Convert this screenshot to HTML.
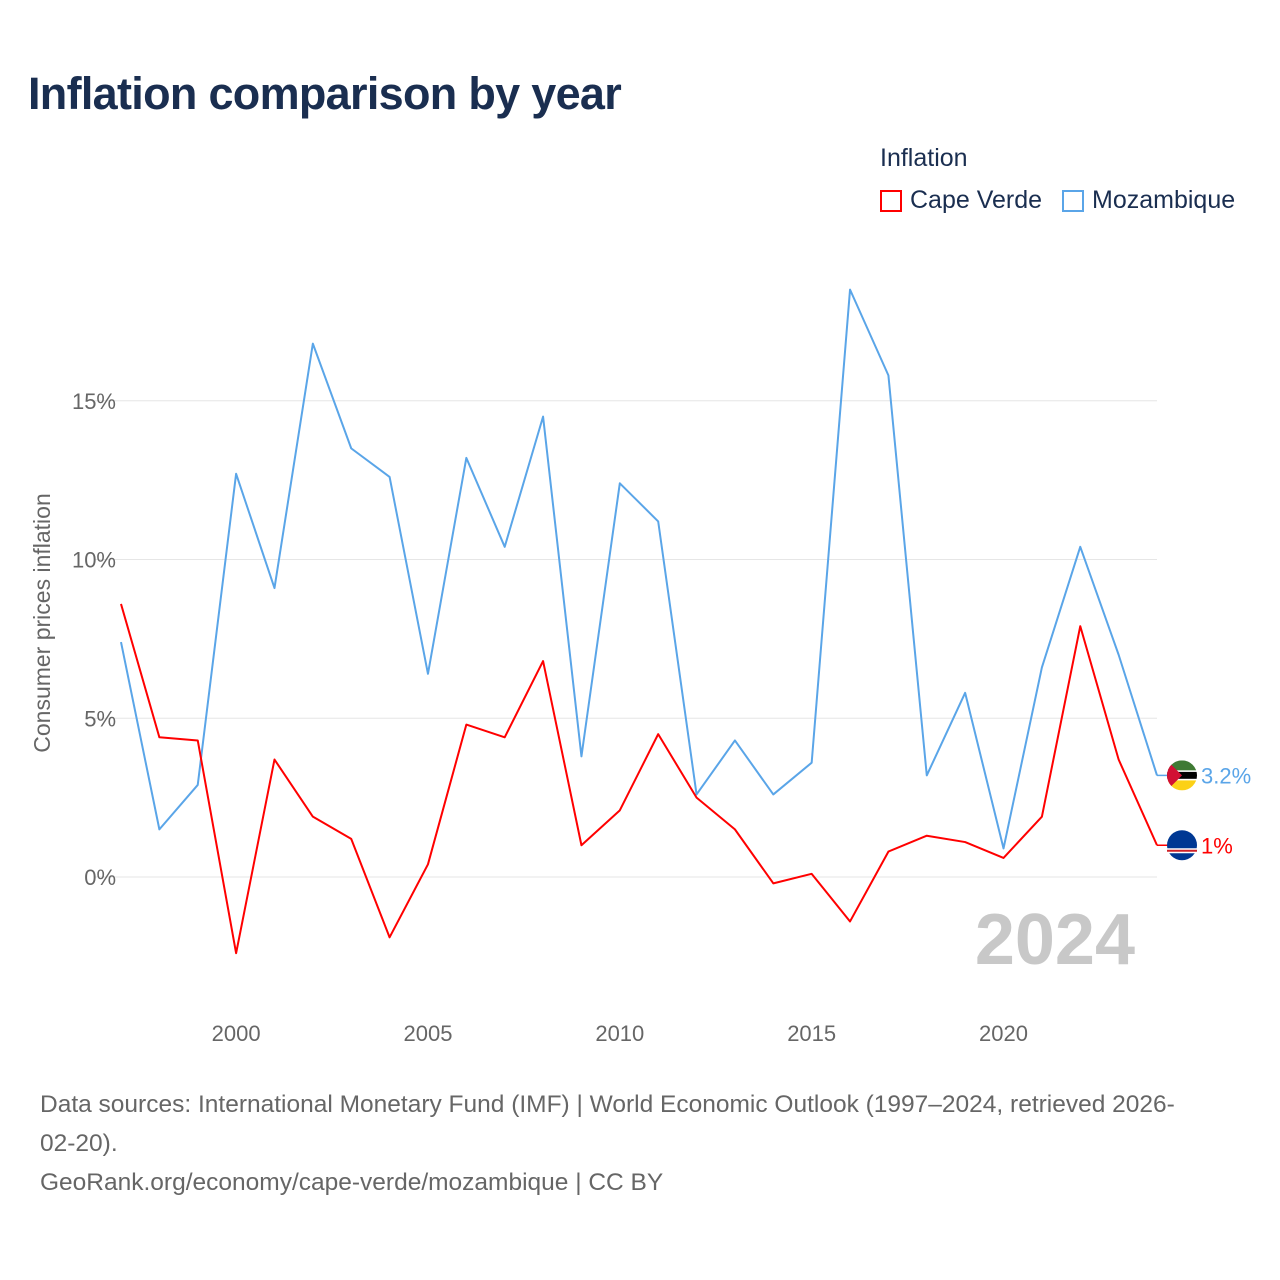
<!DOCTYPE html>
<html><head><meta charset="utf-8">
<style>
html,body{margin:0;padding:0;background:#fff;width:1280px;height:1280px;overflow:hidden}
body{font-family:"Liberation Sans",sans-serif;position:relative}
.title{position:absolute;left:28px;top:68px;font-size:45px;font-weight:bold;color:#1a2e50;letter-spacing:-0.7px}
.legend-title{position:absolute;left:880px;top:144px;font-size:25px;color:#1a2e50}
.leg{position:absolute;top:186px;font-size:25px;color:#1a2e50;display:flex;align-items:center}
.sw{width:22px;height:22px;border:2px solid;box-sizing:border-box;margin-right:8px;background:#fff}
.foot{position:absolute;left:40px;top:1085px;width:1220px;font-size:24.5px;line-height:39px;color:#666;white-space:nowrap}
</style></head><body>
<div class="title">Inflation comparison by year</div>
<div class="legend-title">Inflation</div>
<div class="leg" style="left:880px"><div class="sw" style="border-color:#f00"></div>Cape Verde</div>
<div class="leg" style="left:1062px"><div class="sw" style="border-color:#5aa5e8"></div>Mozambique</div>
<svg id="chart" width="1280" height="1280" style="position:absolute;left:0;top:0"></svg>
<div class="foot">Data sources: International Monetary Fund (IMF) | World Economic Outlook (1997–2024, retrieved 2026-<br>02-20).<br>GeoRank.org/economy/cape-verde/mozambique | CC BY</div>
<script>
const years=[1997,1998,1999,2000,2001,2002,2003,2004,2005,2006,2007,2008,2009,2010,2011,2012,2013,2014,2015,2016,2017,2018,2019,2020,2021,2022,2023,2024];
const mozambique=[7.4,1.5,2.9,12.7,9.1,16.8,13.5,12.6,6.4,13.2,10.4,14.5,3.8,12.4,11.2,2.6,4.3,2.6,3.6,18.5,15.8,3.2,5.8,0.9,6.6,10.4,7.0,3.2];
const capeVerde=[8.6,4.4,4.3,-2.4,3.7,1.9,1.2,-1.9,0.4,4.8,4.4,6.8,1.0,2.1,4.5,2.5,1.5,-0.2,0.1,-1.4,0.8,1.3,1.1,0.6,1.9,7.9,3.7,1.0];
const yTicks=[0,5,10,15];
const xTicks=[2000,2005,2010,2015,2020];
const NS="http://www.w3.org/2000/svg";
const svg=document.getElementById('chart');
const x=v=>121+(v-1997)*(1157-121)/27;
const y=v=>877-v*31.75;
function mk(t,a){const e=document.createElementNS(NS,t);for(const k in a)e.setAttribute(k,a[k]);svg.appendChild(e);return e;}
yTicks.forEach(t=>{
 const g=mk('line',{x1:95,x2:1157,y1:y(t),y2:y(t),stroke:'#e6e6e6','stroke-width':1});
 
 
 const l=mk('text',{x:116,y:y(t)+8,'text-anchor':'end','font-size':22,fill:'#666','font-family':'Liberation Sans'});
 l.textContent=t+'%';
 
 
});
xTicks.forEach(t=>{
 const l=mk('text',{x:x(t),y:1041,'text-anchor':'middle','font-size':22,fill:'#666','font-family':'Liberation Sans'});
 l.textContent=t;
 
 
});
const yt=mk('text',{x:0,y:0,transform:'translate(50,623) rotate(-90)','text-anchor':'middle','font-size':23,fill:'#666','font-family':'Liberation Sans'});
yt.textContent='Consumer prices inflation';


const yr=mk('text',{x:1135,y:964,'text-anchor':'end','font-size':72,'font-weight':'bold',fill:'#c8c8c8','font-family':'Liberation Sans'});
yr.textContent='2024';


function series(vals,color,name){
 const p=mk('polyline',{points:vals.map((v,i)=>x(years[i])+','+y(v)).join(' '),fill:'none',stroke:color,'stroke-width':2,'stroke-linejoin':'round'});
 
 
 const last=vals[vals.length-1];
 const ly=y(last);
 mk('line',{x1:1157,x2:1168,y1:ly,y2:ly,stroke:color,'stroke-width':1.5});
 const lab=mk('text',{x:1201,y:ly+8,'font-size':22,fill:color,'font-family':'Liberation Sans'});
 lab.textContent=(Math.round(last*10)/10)+'%';
 
 
 return ly;
}
const my=series(mozambique,'#5aa5e8','mozambique');
const cy=series(capeVerde,'#f00','cape-verde');
let f=mk('g',{});


const cl1=document.createElementNS(NS,'clipPath');cl1.setAttribute('id','c1');
const cc=document.createElementNS(NS,'circle');cc.setAttribute('cx',1182);cc.setAttribute('cy',my);cc.setAttribute('r',15);cl1.appendChild(cc);svg.appendChild(cl1);
[['#3f7a34',-15,10],['#fff',-5,1.5],['#000',-3.5,7],['#fff',3.5,1.5],['#fcd116',5,10]].forEach(([c,o,h])=>{
 const r=document.createElementNS(NS,'rect');r.setAttribute('x',1167);r.setAttribute('y',my+o);r.setAttribute('width',30);r.setAttribute('height',h);r.setAttribute('fill',c);r.setAttribute('clip-path','url(#c1)');f.appendChild(r);});
const tri=document.createElementNS(NS,'polygon');tri.setAttribute('points',`1167,${my-15} 1182,${my} 1167,${my+15}`);tri.setAttribute('fill','#d21034');tri.setAttribute('clip-path','url(#c1)');f.appendChild(tri);
f=mk('g',{});


const c2=document.createElementNS(NS,'circle');c2.setAttribute('cx',1182);c2.setAttribute('cy',cy);c2.setAttribute('r',15);c2.setAttribute('fill','#003893');f.appendChild(c2);
const s1=document.createElementNS(NS,'rect');s1.setAttribute('x',1167);s1.setAttribute('y',cy+3);s1.setAttribute('width',30);s1.setAttribute('height',5);s1.setAttribute('fill','#fff');f.appendChild(s1);
const s2=document.createElementNS(NS,'rect');s2.setAttribute('x',1167);s2.setAttribute('y',cy+4.5);s2.setAttribute('width',30);s2.setAttribute('height',2);s2.setAttribute('fill','#cf2027');f.appendChild(s2);
</script>
</body></html>
